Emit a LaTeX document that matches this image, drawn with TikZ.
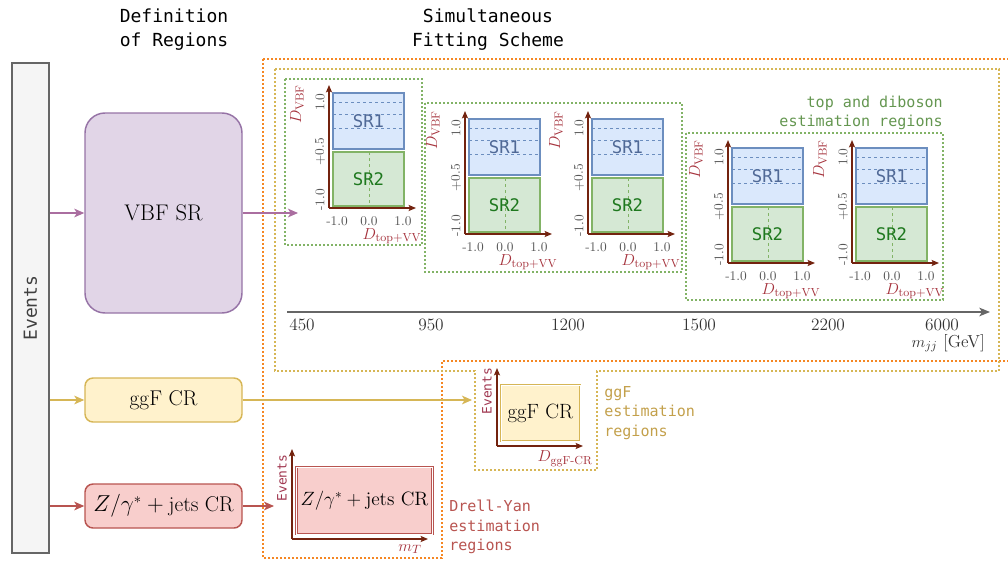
\documentclass[tikz,border=0pt]{standalone}
\usepackage{fontspec}
\usepackage{amsmath}
\usetikzlibrary{arrows.meta}
\newfontfamily\monof{DejaVu Sans Mono}
\definecolor{orangeD}{RGB}{245,135,35}
\definecolor{yellowD}{HTML}{D6B656}
\definecolor{yellowF}{HTML}{FFF2CC}
\definecolor{greenD}{HTML}{82B366}
\definecolor{greenF}{HTML}{D5E8D4}
\definecolor{blueD}{HTML}{6C8EBF}
\definecolor{blueF}{HTML}{DAE8FC}
\definecolor{purpD}{HTML}{9673A6}
\definecolor{purpF}{HTML}{E1D5E7}
\definecolor{purpA}{RGB}{170,110,160}
\definecolor{redD}{HTML}{B85450}
\definecolor{redF}{HTML}{F8CECC}
\definecolor{axisC}{RGB}{115,35,15}
\definecolor{labC}{RGB}{165,50,60}
\definecolor{evC}{RGB}{160,55,80}
\definecolor{sroneT}{RGB}{80,105,150}
\definecolor{srtwoT}{RGB}{30,120,30}
\definecolor{greenT}{RGB}{100,150,80}
\definecolor{yellowT}{RGB}{195,160,75}
\definecolor{tickC}{RGB}{85,85,85}
\definecolor{barF}{HTML}{F5F5F5}
\definecolor{barD}{HTML}{666666}

\tikzset{
  dotline/.style={line width=1.4pt, dash pattern=on 1.4pt off 1.6pt},
  orangebox/.style={dotline, draw=orangeD},
  yellowbox/.style={dotline, draw=yellowD},
  greenbox/.style={dotline, draw=greenD},
  hdr/.style={font=\monof\fontsize{13.5}{18}\selectfont, align=center},
  flowbox/.style={line width=1.1pt, minimum width=117.75pt, inner sep=0pt},
  conn/.style={line width=1pt, -{Stealth[length=7.5pt,width=6.5pt,inset=2pt]}},
  axisarr/.style={draw=axisC, line width=1.1pt, -{Stealth[length=5.5pt,width=4.5pt,inset=1pt]}},
  srframe/.style={line width=1.1pt, minimum width=53.25pt, inner sep=0pt, font=\monof\fontsize{13}{15}\selectfont},
  srdash/.style={line width=0.6pt, dash pattern=on 2.5pt off 2pt},
  ytick/.style={rotate=90, text=tickC, font=\fontsize{10}{12}\selectfont, inner sep=0pt},
  xtick/.style={text=tickC, font=\fontsize{10}{12}\selectfont, inner sep=0pt},
  dlab/.style={text=labC, font=\fontsize{12.5}{14}\selectfont, inner sep=0pt},
  evsmall/.style={rotate=90, text=evC, font=\monof\fontsize{9.7}{11}\selectfont, inner sep=0pt},
  estlab/.style={font=\monof\fontsize{11.3}{14.5}\selectfont, inner sep=0pt},
  mjjtick/.style={font=\fontsize{13}{15}\selectfont, text=black!80, inner sep=0pt},
  dbl/.style={double=white, line width=0.8pt, double distance=0.45pt},
}

\newcommand\vbfpanel[3]{%
\begin{scope}[shift={(#2,#3)}]
  \fill[blueF] (4,-115) rectangle (75,-59);
  \fill[greenF] (4,-56) rectangle (75,-2);
  \draw[srdash, blueD] (4,-106) -- (75,-106);
  \draw[srdash, blueD] (4,-94) -- (75,-94);
  \draw[srdash, blueD] (4,-80) -- (75,-80);
  \draw[srdash, greenD] (40,-56) -- (40,-2);
  \node[srframe, draw=blueD, minimum height=42pt, text=sroneT] (#1-sr1) at (39.5,-87) {SR1};
  \node[srframe, draw=greenD, minimum height=40.5pt, text=srtwoT] (#1-sr2) at (39.5,-29) {SR2};
  \draw[axisarr] (0,0) -- (0,-123);
  \draw[axisarr] (0,0) -- (87,0);
  \node[ytick] (#1-y1) at (-9,-106) {1.0};
  \node[ytick] (#1-y2) at (-9,-56) {+0.5};
  \node[ytick] (#1-y3) at (-9,-8) {-1.0};
  \node[xtick] (#1-x1) at (8,13) {-1.0};
  \node[xtick] (#1-x2) at (40,13) {0.0};
  \node[xtick] (#1-x3) at (74,13) {1.0};
  \node[dlab, rotate=90] (#1-dv) at (-32,-104) {$D_{\mathrm{VBF}}$};
  \node[dlab] (#1-dt) at (63,28) {$D_{\mathrm{top+VV}}$};
\end{scope}}

\begin{document}
\begin{tikzpicture}[x=0.75pt,y=-0.75pt]
\useasboundingbox (0,0) rectangle (1008,561);
\clip (0,0) rectangle (1008,561);

% headers
\node[hdr] (h1) at (174,30) {Definition\\of Regions};
\node[hdr] (h2) at (488,30) {Simultaneous\\Fitting Scheme};

% dotted regions
\draw[orangebox] (263,59) -- (1015,59) -- (1015,361) -- (442,361) -- (442,558) -- (263,558) -- cycle;
\draw[yellowbox] (275,69) -- (999,69) -- (999,371) -- (597,371) -- (597,470) -- (475,470) -- (475,371) -- (275,371) -- cycle;
\draw[greenbox] (285,79) rectangle (422,245);
\draw[greenbox] (425,103) rectangle (682,272);
\draw[greenbox] (686,133) rectangle (943,300);

\node[estlab, text=greenT, align=right, anchor=east] (toplab) at (943,113) {top and diboson\\estimation regions};

% events bar
\node[draw=barD, fill=barF, line width=1pt, minimum width=27.75pt, minimum height=367.5pt, inner sep=0pt] (events) at (30.5,308) {};
\node[rotate=90, font=\monof\fontsize{13.5}{16}\selectfont, text=black!75] (evtext) at (events.center) {Events};

% definition boxes
\node[flowbox, draw=purpD, fill=purpF, minimum height=150pt, rounded corners=15pt, font=\fontsize{17}{20}\selectfont] (vbf) at (163.5,213) {VBF SR};
\node[flowbox, draw=yellowD, fill=yellowF, minimum height=33pt, rounded corners=6pt, font=\fontsize{16}{19}\selectfont] (ggf) at (163.5,400) {ggF CR};
\node[flowbox, draw=redD, fill=redF, minimum height=33pt, rounded corners=6pt, font=\fontsize{16}{19}\selectfont] (zj) at (163.5,506) {$Z/\gamma^*+\mathrm{jets\ CR}$};

% panels
\vbfpanel{pa}{329}{208}
\vbfpanel{pb}{465}{234}
\vbfpanel{pc}{588}{234}
\vbfpanel{pd}{728}{263}
\vbfpanel{pe}{852}{263}

% mjj axis
\coordinate (mjjL) at (287,312);
\coordinate (mjjR) at (990,312);
\draw[line width=1pt, draw=black!60, -{Stealth[length=8pt,width=6.5pt,inset=2pt]}] (mjjL) -- (mjjR);
\node[mjjtick] (t1) at (302,325) {450};
\node[mjjtick] (t2) at (431,325) {950};
\node[mjjtick] (t3) at (568,325) {1200};
\node[mjjtick] (t4) at (699,325) {1500};
\node[mjjtick] (t5) at (828,325) {2200};
\node[mjjtick] (t6) at (942,325) {6000};
\node[mjjtick, anchor=east] (mjj) at (985,343) {$m_{jj}$ [GeV]};

% ggF panel
\draw[axisarr] (497,446) -- (497,368);
\draw[axisarr] (497,446) -- (583,446);
\node[draw=yellowD, fill=yellowF, dbl, minimum width=59.25pt, minimum height=42pt, inner sep=0pt, font=\fontsize{15.5}{18}\selectfont] (ggfp) at (540.5,413) {ggF CR};
\node[evsmall] (ggfev) at (487,391) {Events};
\node[dlab] (ggfd) at (565,459) {$D_{\mathrm{ggF}\text{-}\mathrm{CR}}$};
\node[estlab, text=yellowT, align=left, anchor=west] (ggflab) at (604,413) {ggF\\estimation\\regions};

% DY panel
\draw[axisarr] (292,539) -- (292,449);
\draw[axisarr] (292,539) -- (428,539);
\node[draw=redD, fill=redF, dbl, minimum width=102pt, minimum height=50.25pt, inner sep=0pt, font=\fontsize{14.5}{17}\selectfont] (dyp) at (364.5,500.5) {$Z/\gamma^*+\mathrm{jets\ CR}$};
\node[evsmall] (dyev) at (282,478) {Events};
\node[dlab] (dymt) at (410,549) {$m_T$};
\node[estlab, text=redD, align=left, anchor=west] (dylab) at (449,527) {Drell-Yan\\estimation\\regions};

% connectors
\coordinate (pain) at (298,213);
\coordinate (ggfin) at (472,400);
\coordinate (dyin) at (274,506);
\draw[conn, draw=purpA, fill=purpA] (events.east |- vbf.west) -- (vbf.west);
\draw[conn, draw=purpA, fill=purpA] (vbf.east) -- (pain);
\draw[conn, draw=yellowD, fill=yellowD] (events.east |- ggf.west) -- (ggf.west);
\draw[conn, draw=yellowD, fill=yellowD] (ggf.east) -- (ggfin);
\draw[conn, draw=redD, fill=redD] (events.east |- zj.west) -- (zj.west);
\draw[conn, draw=redD, fill=redD] (zj.east) -- (dyin);
\end{tikzpicture}
\end{document}
